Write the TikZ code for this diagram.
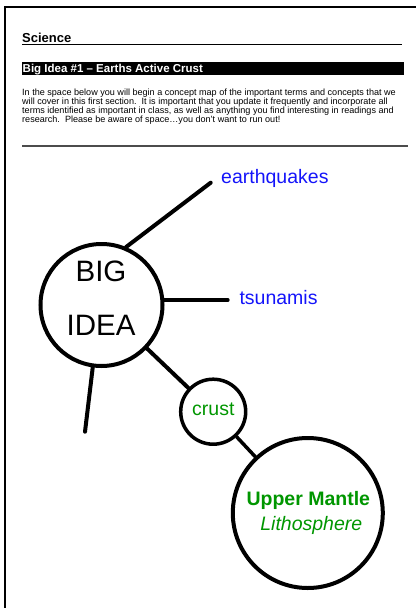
\documentclass[tikz,border=0pt]{standalone}
\usepackage{fontspec}
\setmainfont{Liberation Sans}
\definecolor{termblue}{RGB}{20,20,250}
\definecolor{termgreen}{RGB}{0,150,0}
\tikzset{
  bubble/.style={circle, draw, line width=#1, inner sep=0pt},
  link/.style={line width=4pt, line cap=round},
  term/.style={inner sep=0pt, anchor=base west, text=termblue, font=\fontsize{19.5}{23}\selectfont},
  bigword/.style={inner sep=0pt, anchor=base, font=\fontsize{29.5}{34}\selectfont},
  greenword/.style={inner sep=0pt, anchor=base, text=termgreen, font=\fontsize{19.5}{23}\selectfont},
  paraline/.style={inner sep=0pt, anchor=base west, font=\fontsize{9.07}{9}\selectfont},
}
\begin{document}
\begin{tikzpicture}[x=1pt, y=-1pt]
\useasboundingbox (0,0) rectangle (416,608);
% page frame
\draw[line width=1.5pt] (5,608) -- (5,7) -- (416,7);
% header
\node[inner sep=0pt, anchor=base west, font=\bfseries\fontsize{13}{15}\selectfont] (sci) at (22,42.7) {Science};
\draw[line width=1.2pt] (22,44.5) -- (402,44.5);
\fill (22,62) rectangle (404,75);
\node[inner sep=0pt, anchor=base west, text=white, font=\bfseries\fontsize{11.5}{14}\selectfont] (bar) at (22.5,72.7) {Big Idea \#1 – Earths Active Crust};
\node[paraline] (p1) at (22,95.5) {In the space below you will begin a concept map of the important terms and concepts that we};
\node[paraline] (p2) at (22,104.5) {will cover in this first section.\ \ It is important that you update it frequently and incorporate all};
\node[paraline] (p3) at (22,113.5) {terms identified as important in class, as well as anything you find interesting in readings and};
\node[paraline] (p4) at (22,122.5) {research.\ \ Please be aware of space…you don’t want to run out!};
\draw[line width=1.6pt, black!70] (22,146) -- (408,146);
% concept map
\node[bubble=4pt, minimum size=122pt] (big) at (101.5,305) {};
\node[bubble=3.5pt, minimum size=65pt] (crust) at (213.2,411.7) {};
\node[bubble=4pt, minimum size=150pt] (mantle) at (307.8,513) {};
\coordinate (eqend) at (210.7,182.7);
\coordinate (tsend) at (227.7,300);
\coordinate (dangle) at (85,431.7);
\draw[link] (big.67) -- (eqend);
\draw[link] (tsend -| big.east) -- (tsend);
\draw[link] (big.-98) -- (dangle);
\draw[link] (big) -- (crust);
\draw[link, line width=3.5pt] (crust) -- (mantle);
\node[term] (eq) at (221,183.5) {earthquakes};
\node[term] (ts) at (239.3,304) {tsunamis};
\node[bigword] (bigt) at (101,281.7) {BIG};
\node[bigword] (ideat) at (101,335) {IDEA};
\node[greenword] (crustt) at (213.3,415.7) {crust};
\node[greenword, font=\bfseries\fontsize{19.5}{23}\selectfont] (mantlet) at (308.3,505.7) {Upper Mantle};
\node[greenword, font=\itshape\fontsize{19.5}{23}\selectfont] (litho) at (311.3,530) {Lithosphere};
\end{tikzpicture}
\end{document}
